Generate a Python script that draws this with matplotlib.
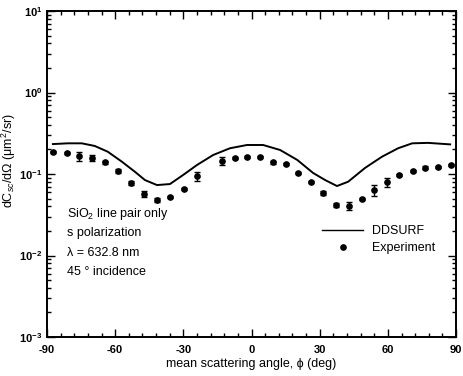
import matplotlib
matplotlib.use("Agg")
import matplotlib.pyplot as plt
import numpy as np
from matplotlib.lines import Line2D
from matplotlib.ticker import LogLocator, MultipleLocator, NullFormatter

plt.rcParams["font.family"] = ["Liberation Sans", "DejaVu Sans"]
plt.rcParams["mathtext.fontset"] = "custom"
plt.rcParams["mathtext.rm"] = "Liberation Sans"
plt.rcParams["mathtext.it"] = "Liberation Sans:italic"
plt.rcParams["mathtext.bf"] = "Liberation Sans:bold"
plt.rcParams["axes.unicode_minus"] = False

# DDSURF calculation (solid line)
dd_angle = [-87.4, -80.8, -74.7, -69.0, -63.3, -57.1, -51.4, -46.9, -41.6, -35.9,
            -30.1, -24.0, -16.9, -9.5, -2.0, 5.1, 12.6, 20.1, 27.1, 32.4,
            37.6, 42.5, 50.0, 57.4, 64.5, 70.7, 77.7, 87.4]
dd_value = [0.233, 0.238, 0.238, 0.221, 0.188, 0.142, 0.107, 0.0843, 0.0732, 0.0753,
            0.0973, 0.129, 0.171, 0.207, 0.227, 0.227, 0.197, 0.149, 0.103, 0.0843,
            0.0712, 0.0804, 0.119, 0.163, 0.207, 0.238, 0.241, 0.231]

# measured points
exp_angle = [-87.4, -81.2, -75.9, -70.2, -64.4, -58.7, -53.0, -47.3, -41.5, -35.9,
             -29.7, -24.0, -13.0, -7.3, -2.0, 3.7, 9.5, 15.2, 20.5, 26.2,
             31.5, 37.2, 42.9, 48.6, 53.9, 59.6, 64.9, 71.1, 76.4, 82.1, 87.8]
exp_value = [0.186, 0.181, 0.166, 0.157, 0.140, 0.109, 0.0776, 0.0569, 0.048, 0.0522,
             0.0655, 0.0945, 0.144, 0.157, 0.162, 0.162, 0.140, 0.133, 0.103, 0.0798,
             0.0585, 0.0417, 0.0405, 0.0493, 0.0637, 0.0798, 0.0973, 0.109, 0.119, 0.122, 0.129]
exp_relerr = [0.04, 0.04, 0.13, 0.08, 0.04, 0.06, 0.06, 0.08, 0.06, 0.04,
              0.04, 0.12, 0.11, 0.04, 0.04, 0.04, 0.04, 0.04, 0.04, 0.04,
              0.06, 0.06, 0.11, 0.04, 0.15, 0.12, 0.04, 0.04, 0.04, 0.04, 0.04]

notes = ["SiO$_2$ line pair only", "s polarization", "λ = 632.8 nm", "45 ° incidence"]


def main():
    fig = plt.figure(figsize=(4.63, 3.76), dpi=100)
    ax = fig.add_axes([0.1015, 0.1037, 0.8835, 0.867])

    ev = np.array(exp_value)
    er = np.array(exp_relerr) * ev
    ax.plot(dd_angle, dd_value, color="black", lw=1.4)
    ax.errorbar(exp_angle, ev, yerr=er, fmt="o", color="black", ms=3.8,
                elinewidth=1.0, capsize=2.5, capthick=1.0)

    ax.set_yscale("log")
    ax.set_xlim(-90, 90)
    ax.set_ylim(1e-3, 10)
    ax.xaxis.set_major_locator(MultipleLocator(30))
    ax.xaxis.set_minor_locator(MultipleLocator(6))
    ax.yaxis.set_major_locator(LogLocator(base=10, numticks=10))
    ax.yaxis.set_minor_locator(LogLocator(base=10, subs=np.arange(2, 10), numticks=10))
    ax.yaxis.set_minor_formatter(NullFormatter())
    ax.tick_params(which="both", direction="in", top=True, right=True, labelsize=8, width=1.0)
    ax.tick_params(which="major", length=6)
    ax.tick_params(which="minor", length=3)
    ax.tick_params(axis="x", pad=6)
    for lab in ax.get_xticklabels() + ax.get_yticklabels():
        lab.set_fontweight("bold")
    for s in ax.spines.values():
        s.set_linewidth(1.4)

    ax.set_xlabel("mean scattering angle, ϕ (deg)", fontsize=9, labelpad=2)
    ax.set_ylabel("dC$_{sc}$/dΩ (μm$^2$/sr)", fontsize=9)
    ax.yaxis.set_label_coords(-0.072, 0.54)

    for i, t in enumerate(notes):
        ax.text(0.05, 0.378 - i * 0.0595, t, transform=ax.transAxes, fontsize=9, va="center")

    handles = [Line2D([], [], color="black", lw=1.0),
               Line2D([], [], color="black", marker="o", ls="none", ms=3.8)]
    ax.legend(handles, ["DDSURF", "Experiment"], loc="upper left", bbox_to_anchor=(0.645, 0.378),
              frameon=False, fontsize=9, handlelength=3.3, handletextpad=0.7, labelspacing=0.4)

    fig.savefig("out.png", dpi=100)


if __name__ == "__main__":
    main()
